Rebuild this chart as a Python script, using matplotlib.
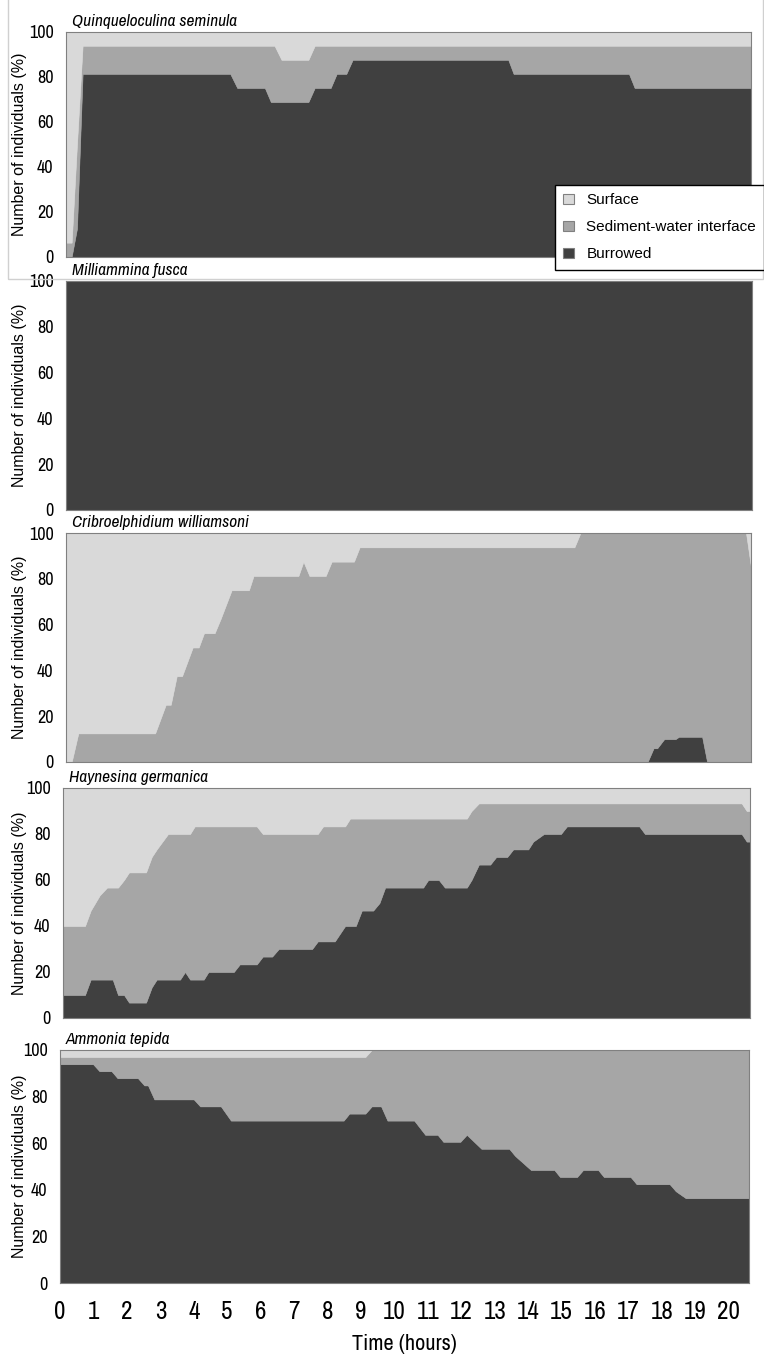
import matplotlib.pyplot as plt
from matplotlib.patches import Patch, Rectangle

# ---- data (percent of individuals per position) ----
species = ["Quinqueloculina seminula", "Milliammina fusca",
           "Cribroelphidium williamsoni", "Haynesina germanica", "Ammonia tepida"]
series_labels = ["Surface", "Sediment-water interface", "Burrowed"]

q_time = [0, 0.17, 0.33, 0.5, 4.94, 5.15, 5.98, 6.16, 6.27, 6.48, 7.29, 7.48,
          7.96, 8.14, 8.43, 8.62, 13.30, 13.46, 16.93, 17.10, 20.6]
q_burrowed = [0, 0, 12.5, 81.25, 81.25, 75, 75, 68.75, 68.75, 68.75, 68.75, 75,
              75, 81.25, 81.25, 87.5, 87.5, 81.25, 81.25, 75, 75]
q_interface = [6.25, 6.25, 37.5, 12.5, 12.5, 18.75, 18.75, 25, 25, 18.75, 18.75, 18.75,
               18.75, 12.5, 12.5, 6.25, 6.25, 12.5, 12.5, 18.75, 18.75]
q_surface = [93.75, 93.75, 50, 6.25, 6.25, 6.25, 6.25, 6.25, 6.25, 12.5, 12.5, 6.25,
             6.25, 6.25, 6.25, 6.25, 6.25, 6.25, 6.25, 6.25, 6.25]

m_time = [0, 20.6]
m_burrowed = [100, 100]
m_interface = [0, 0]
m_surface = [0, 0]

c_time = [0, 0.17, 0.37, 2.68, 3.00, 3.15, 3.33, 3.49, 3.81, 3.99, 4.15, 4.47, 4.65,
          4.98, 5.50, 5.64, 6.99, 7.14, 7.32, 7.81, 7.99, 8.66, 8.83, 15.29, 15.47,
          17.49, 17.67, 17.78, 17.99, 18.33, 18.43, 19.13, 19.28, 20.45, 20.6]
c_burrowed = [0, 0, 0, 0, 0, 0, 0, 0, 0, 0, 0, 0, 0,
              0, 0, 0, 0, 0, 0, 0, 0, 0, 0, 0, 0,
              0, 6, 6, 10, 10, 11, 11, 0, 0, 0]
c_interface = [0, 0, 12.5, 12.5, 25, 25, 37.5, 37.5, 50, 50, 56.25, 56.25, 62.5,
               75, 75, 81.25, 81.25, 87.5, 81.25, 81.25, 87.5, 87.5, 93.75, 93.75, 100,
               100, 94, 94, 90, 90, 89, 89, 100, 100, 85]
c_surface = [100, 100, 87.5, 87.5, 75, 75, 62.5, 62.5, 50, 50, 43.75, 43.75, 37.5,
             25, 25, 18.75, 18.75, 12.5, 18.75, 18.75, 12.5, 12.5, 6.25, 6.25, 0,
             0, 0, 0, 0, 0, 0, 0, 0, 0, 15]

h_time = [0, 0.66, 0.83, 1.10, 1.32, 1.49, 1.65, 1.83, 1.98, 2.49, 2.66, 2.81, 3.15,
          3.51, 3.66, 3.81, 3.95, 4.22, 4.36, 5.12, 5.30, 5.81, 5.99, 6.27, 6.47,
          7.47, 7.64, 7.80, 8.15, 8.46, 8.61, 8.78, 8.96, 9.30, 9.49, 9.66, 10.80,
          10.95, 11.27, 11.45, 12.11, 12.25, 12.47, 12.81, 12.99, 13.32, 13.50, 13.95,
          14.10, 14.42, 14.93, 15.11, 17.28, 17.45, 20.35, 20.50, 20.6]
h_burrowed = [10, 10, 16.7, 16.7, 16.7, 16.7, 10, 10, 6.7, 6.7, 13.3, 16.7, 16.7,
              16.7, 20, 16.7, 16.7, 16.7, 20, 20, 23.3, 23.3, 26.7, 26.7, 30,
              30, 33.3, 33.3, 33.3, 40, 40, 40, 46.7, 46.7, 50, 56.7, 56.7,
              60, 60, 56.7, 56.7, 60, 66.7, 66.7, 70, 70, 73.3, 73.3,
              76.7, 80, 80, 83.3, 83.3, 80, 80, 76.7, 76.7]
h_interface = [30, 30, 30, 36.6, 40, 40, 46.7, 50, 56.6, 56.6, 56.7, 56.6, 63.3,
               63.3, 60, 63.3, 66.6, 66.6, 63.3, 63.3, 60, 60, 53.3, 53.3, 50,
               50, 46.7, 50, 50, 43.3, 46.7, 46.7, 40, 40, 36.7, 30, 30,
               26.7, 26.7, 30, 30, 30, 26.6, 26.6, 23.3, 23.3, 20, 20,
               16.6, 13.3, 13.3, 10, 10, 13.3, 13.3, 13.3, 13.3]
h_surface = [60, 60, 53.3, 46.7, 43.3, 43.3, 43.3, 40, 36.7, 36.7, 30, 26.7, 20,
             20, 20, 20, 16.7, 16.7, 16.7, 16.7, 16.7, 16.7, 20, 20, 20,
             20, 20, 16.7, 16.7, 16.7, 13.3, 13.3, 13.3, 13.3, 13.3, 13.3, 13.3,
             13.3, 13.3, 13.3, 13.3, 10, 6.7, 6.7, 6.7, 6.7, 6.7, 6.7,
             6.7, 6.7, 6.7, 6.7, 6.7, 6.7, 6.7, 10, 10]

a_time = [0, 0.99, 1.18, 1.54, 1.72, 2.33, 2.52, 2.63, 2.82, 4.00, 4.19, 4.81, 5.11,
          8.48, 8.65, 9.13, 9.32, 9.60, 9.79, 10.59, 10.92, 11.29, 11.46, 11.97,
          12.16, 12.60, 13.43, 13.61, 14.08, 14.78, 14.95, 15.46, 15.64, 16.09,
          16.26, 17.06, 17.24, 18.23, 18.41, 18.71, 20.6]
a_burrowed = [93.9, 93.9, 90.9, 90.9, 87.9, 87.9, 84.8, 84.8, 78.8, 78.8, 75.8, 75.8, 69.7,
              69.7, 72.7, 72.7, 75.8, 75.8, 69.7, 69.7, 63.6, 63.6, 60.6, 60.6,
              63.6, 57.6, 57.6, 54.5, 48.5, 48.5, 45.5, 45.5, 48.5, 48.5,
              45.5, 45.5, 42.4, 42.4, 39.4, 36.4, 36.4]
a_interface = [3.1, 3.1, 6.1, 6.1, 9.1, 9.1, 12.2, 12.2, 18.2, 18.2, 21.2, 21.2, 27.3,
               27.3, 24.3, 24.3, 24.2, 24.2, 30.3, 30.3, 36.4, 36.4, 39.4, 39.4,
               36.4, 42.4, 42.4, 45.5, 51.5, 51.5, 54.5, 54.5, 51.5, 51.5,
               54.5, 54.5, 57.6, 57.6, 60.6, 63.6, 63.6]
a_surface = [3.0, 3.0, 3.0, 3.0, 3.0, 3.0, 3.0, 3.0, 3.0, 3.0, 3.0, 3.0, 3.0,
             3.0, 3.0, 3.0, 0, 0, 0, 0, 0, 0, 0, 0,
             0, 0, 0, 0, 0, 0, 0, 0, 0, 0,
             0, 0, 0, 0, 0, 0, 0]

panels = [
    (q_time, q_burrowed, q_interface, q_surface),
    (m_time, m_burrowed, m_interface, m_surface),
    (c_time, c_burrowed, c_interface, c_surface),
    (h_time, h_burrowed, h_interface, h_surface),
    (a_time, a_burrowed, a_interface, a_surface),
]

hours = list(range(0, 21))
colors = {"Burrowed": "#404040", "Sediment-water interface": "#a6a6a6", "Surface": "#d9d9d9"}

# panel boxes in pixels: left, top, right, bottom
boxes = [(66, 31.7, 751, 256.7), (66, 281, 752, 510), (66, 533, 751, 762),
         (63, 788, 750, 1018), (60, 1050, 749, 1283)]

W, H = 764, 1363
narrow = ['Liberation Sans Narrow', 'Archivo Narrow', 'DejaVu Sans']
regular = ['Liberation Sans', 'DejaVu Sans']
plt.rcParams['font.family'] = narrow
fig = plt.figure(figsize=(W / 100, H / 100), dpi=100)

# faint outer frame around the first panel
fig.patches.append(Rectangle((8 / W, 1 - 279 / H), (763 - 8) / W, 300 / H,
                             transform=fig.transFigure, fill=False,
                             edgecolor='#d0d0d0', lw=1, zorder=0))

for k, (name, data, box) in enumerate(zip(species, panels, boxes)):
    left, top, right, bottom = box
    ax = fig.add_axes([left / W, 1 - bottom / H, (right - left) / W, (bottom - top) / H])
    t, b, i, s = data
    ax.stackplot(t, b, i, s,
                 colors=[colors["Burrowed"], colors["Sediment-water interface"], colors["Surface"]],
                 edgecolor='face', lw=0.4)
    ax.set_xlim(0, 20.6)
    ax.set_ylim(0, 100)
    ax.set_yticks(range(0, 101, 20))
    ax.tick_params(axis='y', length=0, pad=9, labelsize=13)
    for sp in ax.spines.values():
        sp.set_color('#808080')
        sp.set_linewidth(0.8)
    ax_h = bottom - top
    ax.text(6 / (right - left), 1 + 3 / ax_h, name, transform=ax.transAxes,
            style='italic', fontsize=12.5, ha='left', va='bottom')
    ax.set_ylabel('Number of individuals (%)', family=regular, fontsize=11.5)
    ax.yaxis.set_label_coords((27 - left) / (right - left), 0.5)
    if k == len(species) - 1:
        ax.set_xticks(hours)
        ax.tick_params(axis='x', length=0, pad=12, labelsize=18)
        ax.set_xlabel('Time (hours)', fontsize=16)
        ax.xaxis.set_label_coords(0.5, -0.22)
    else:
        ax.set_xticks([])

handles = [Patch(facecolor=colors[lab], edgecolor='#808080', lw=0.8) for lab in series_labels]
leg = fig.legend(handles, series_labels, loc='upper left',
                 bbox_to_anchor=(555 / W, 1 - 185 / H), borderaxespad=0,
                 prop={'family': regular, 'size': 11},
                 frameon=True, fancybox=False, edgecolor='black', framealpha=1,
                 handlelength=0.7, handleheight=0.7, handletextpad=0.8,
                 labelspacing=0.85, borderpad=0.55)
leg.get_frame().set_linewidth(1)

fig.savefig('out.png', dpi=100)
